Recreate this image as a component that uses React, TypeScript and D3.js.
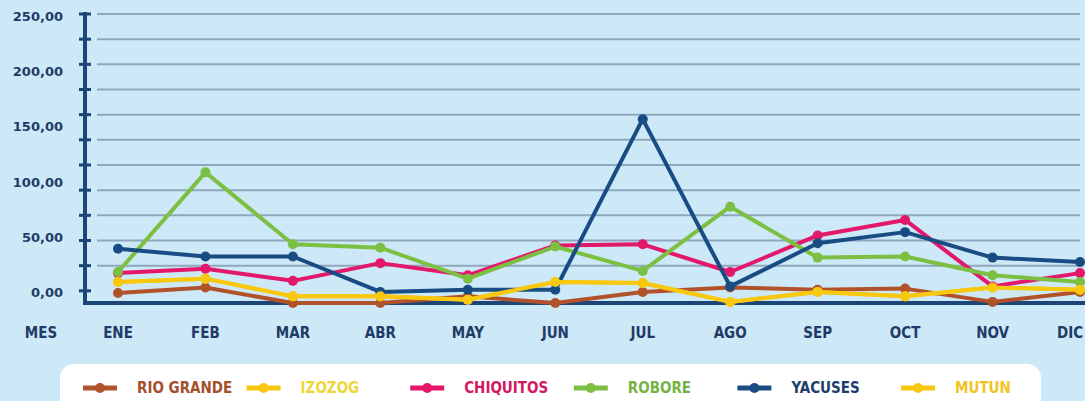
import * as d3 from "d3";

// months on the x axis
const months = ["ENE", "FEB", "MAR", "ABR", "MAY", "JUN", "JUL", "AGO", "SEP", "OCT", "NOV", "DIC"];

// y labels shown on the axis
const yLabelValues = [0, 50, 100, 150, 200, 250];

// series
const rioGrande = [-2, 3, -11, -11, -5, -11, -1, 3, 1, 2, -10, -1];
const izozog = [8, 11, -5, -5, -8, 8, 7, -10, -1, -5, 3, 1];
const chiquitos = [16, 20, 9, 25, 14, 41, 42, 17, 50, 64, 4, 16];
const robore = [17, 107, 42, 39, 11, 40, 18, 76, 30, 31, 14, 8];
const yacuses = [38, 31, 31, -1, 1, 1, 155, 4, 43, 53, 30, 26];
const mutun = [8, 11, -5, -5, -8, 8, 7, -10, -1, -5, 3, 1];

const seriesNames = ["RIO GRANDE", "IZOZOG", "CHIQUITOS", "ROBORE", "YACUSES", "MUTUN"];
const seriesValues = [rioGrande, izozog, chiquitos, robore, yacuses, mutun];
const lineColors = ["#b1522b", "#f8c80f", "#e4186b", "#7bbf43", "#1a4c84", "#f8c80f"];
const textColors = ["#a4502e", "#eed63a", "#d31862", "#78b246", "#1d3d6c", "#f2c41e"];

const width = 1085;
const height = 401;
const navy = "#1b4677";
const labelColor = "#1f3b68";

export default function App() {
  const x = d3.scalePoint<string>().domain(months).range([118, 1080]);
  const y = d3.scaleLinear().domain([-11, 250]).range([303, 14]);

  // 11 equal grid steps between 0 and 250
  const gridSteps = d3.range(0, 12).map((i) => (250 * i) / 11);

  const line = d3
    .line<number>()
    .x((_, i) => x(months[i]) as number)
    .y((d) => y(d));

  const fmt = (v: number) => d3.format(".2f")(v).replace(".", ",");

  // legend item starts
  const legendX = d3.scalePoint<number>().domain(d3.range(seriesNames.length)).range([83, 901]);

  return (
    <svg
      width={width}
      height={height}
      style={{ position: "absolute", left: 0, top: 0, display: "block" }}
      fontFamily="'DejaVu Sans Condensed', 'DejaVu Sans', sans-serif"
    >
      <rect width={width} height={height} fill="#cde8f6" />

      {/* grid */}
      {gridSteps.slice(1).map((v, i) => (
        <line key={i} x1={97} x2={1080} y1={y(v)} y2={y(v)} stroke="#8ea7bd" strokeWidth={2} />
      ))}

      {/* y axis */}
      <line x1={85} x2={85} y1={12} y2={304} stroke={navy} strokeWidth={4} />
      {gridSteps.map((v, i) => (
        <line key={i} x1={79} x2={91} y1={y(v)} y2={y(v)} stroke={navy} strokeWidth={3} />
      ))}
      {yLabelValues.map((v) => (
        <text
          key={v}
          x={63}
          y={y(v) + 2}
          dy="0.35em"
          textAnchor="end"
          fontFamily="'DejaVu Sans', sans-serif"
          fontWeight="bold"
          fontSize={13}
          fill={labelColor}
        >
          {fmt(v)}
        </text>
      ))}

      {/* x axis */}
      <line x1={83} x2={1085} y1={303} y2={303} stroke={navy} strokeWidth={4} />
      <text x={41} y={333} dy="0.35em" textAnchor="middle" fontWeight="bold" fontSize={15} fill={labelColor}>
        MES
      </text>
      {months.map((m) => (
        <text
          key={m}
          x={Math.min(x(m) as number, width - 15)}
          y={333}
          dy="0.35em"
          textAnchor="middle"
          fontWeight="bold"
          fontSize={15}
          fill={labelColor}
        >
          {m}
        </text>
      ))}

      {/* series */}
      {seriesValues.map((vals, s) => (
        <g key={seriesNames[s]}>
          <path d={line(vals) ?? ""} fill="none" stroke={lineColors[s]} strokeWidth={4} strokeLinejoin="round" />
          {vals.map((v, i) => (
            <circle key={i} cx={x(months[i])} cy={y(v)} r={5} fill={lineColors[s]} />
          ))}
        </g>
      ))}

      {/* legend */}
      <rect x={60} y={364} width={981} height={60} rx={14} fill="#ffffff" />
      {seriesNames.map((name, s) => {
        const lx = legendX(s) as number;
        return (
          <g key={name}>
            <line x1={lx} x2={lx + 34} y1={388} y2={388} stroke={lineColors[s]} strokeWidth={5} />
            <circle cx={lx + 17} cy={388} r={5} fill={lineColors[s]} />
            <text x={lx + 54} y={388} dy="0.35em" fontWeight="bold" fontSize={15} fill={textColors[s]}>
              {name}
            </text>
          </g>
        );
      })}
    </svg>
  );
}
